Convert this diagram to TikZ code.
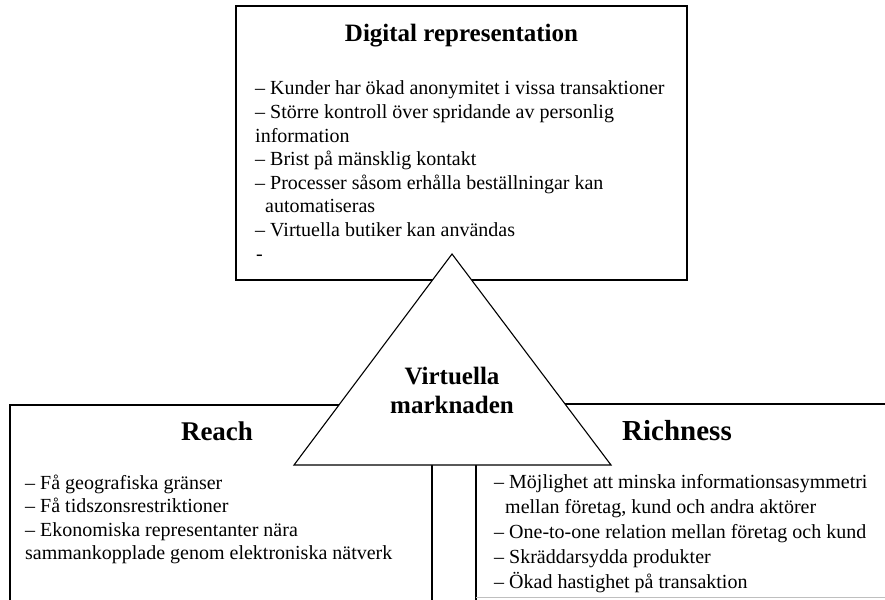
\documentclass[tikz,border=0pt]{standalone}
\usepackage{fontspec}
\setmainfont{Liberation Serif}
\begin{document}
\begin{tikzpicture}[x=1pt,y=-1pt,
  boxframe/.style={draw=black,line width=1.3pt,rectangle,inner sep=0pt,outer sep=0pt,anchor=north west},
  bodytxt/.style={font=\fontsize{20}{23}\selectfont,anchor=base west,inner sep=0pt},
  headtxt/.style={font=\fontsize{25}{29}\selectfont\bfseries,anchor=base,inner sep=0pt},
  bighead/.style={font=\fontsize{27}{31}\selectfont\bfseries,anchor=base,inner sep=0pt}]
\useasboundingbox (0,0) rectangle (885,599);
\clip (0,0) rectangle (885,599);
% boxes
\node[boxframe,minimum width=451pt,minimum height=274pt] (digital) at (236,6) {};
\node[boxframe,minimum width=422pt,minimum height=230pt] (reach) at (10,405) {};
\node[boxframe,minimum width=440pt,minimum height=230pt] (rich) at (476,404) {};
\coordinate (rbl) at (476,597.5);
\coordinate (rbr) at (885,597.5);
\draw[black!25,line width=0.8pt] (rbl) -- (rbr);
% triangle
\coordinate (apex) at (452,254);
\coordinate (tbl) at (294,465);
\coordinate (tbr) at (611,465);
\draw[line width=1.1pt,fill=white,line join=miter] (apex) -- (tbl) -- (tbr) -- cycle;
% top box text
\node[headtxt] (dtitle) at (461.5,42) {Digital representation};
\node[bodytxt] (d1) at (255,95) {– Kunder har ökad anonymitet i vissa transaktioner};
\node[bodytxt] (d2) at (255,118.5) {– Större kontroll över spridande av personlig};
\node[bodytxt] (d3) at (255,142) {information};
\node[bodytxt] (d4) at (255,165.5) {– Brist på mänsklig kontakt};
\node[bodytxt] (d5) at (255,189) {– Processer såsom erhålla beställningar kan};
\node[bodytxt] (d6) at (265,212.5) {automatiseras};
\node[bodytxt] (d7) at (255,236) {– Virtuella butiker kan användas};
\node[bodytxt] (d8) at (256,260) {-};
% triangle text
\node[headtxt] (v1) at (452,384) {Virtuella};
\node[headtxt] (v2) at (452,413) {marknaden};
% reach
\node[bighead] (rtitle) at (217,440) {Reach};
\node[bodytxt] (r1) at (25,489) {– Få geografiska gränser};
\node[bodytxt] (r2) at (25,512.5) {– Få tidszonsrestriktioner};
\node[bodytxt] (r3) at (25,536) {– Ekonomiska representanter nära};
\node[bodytxt] (r4) at (25,559.5) {sammankopplade genom elektroniska nätverk};
% richness
\node[bighead,font=\fontsize{29}{33}\selectfont\bfseries] (ctitle) at (677,440) {Richness};
\node[bodytxt] (c1) at (494,488) {– Möjlighet att minska informationsasymmetri};
\node[bodytxt] (c2) at (505,513) {mellan företag, kund och andra aktörer};
\node[bodytxt] (c3) at (494,538) {– One-to-one relation mellan företag och kund};
\node[bodytxt] (c4) at (494,563) {– Skräddarsydda produkter};
\node[bodytxt] (c5) at (494,588) {– Ökad hastighet på transaktion};
\end{tikzpicture}
\end{document}
